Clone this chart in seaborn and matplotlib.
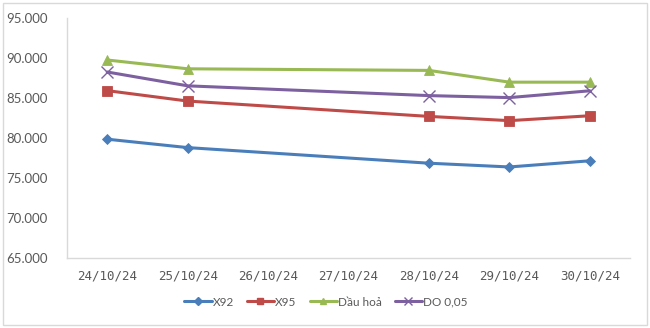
import matplotlib
matplotlib.use("Agg")
import matplotlib.pyplot as plt
from matplotlib.patches import Rectangle
from matplotlib.lines import Line2D
import matplotlib.ticker as mticker
import seaborn as sns
import pandas as pd
import numpy as np

dates = ["2024-10-24", "2024-10-25", "2024-10-28", "2024-10-29", "2024-10-30"]
tick_dates = ["2024-10-24", "2024-10-25", "2024-10-26", "2024-10-27",
              "2024-10-28", "2024-10-29", "2024-10-30"]
x92 = [79850, 78800, 76850, 76380, 77150]
x95 = [85920, 84620, 82700, 82170, 82780]
dau_hoa = [89750, 88650, 88450, 86980, 86980]
do005 = [88250, 86520, 85300, 85050, 85900]

series_names = ["X92", "X95", "Dầu hoả", "DO 0,05"]
series_values = [x92, x95, dau_hoa, do005]
colors = ["#4A7EBB", "#BE4B48", "#98B954", "#7D60A0"]
markers = ["D", "s", "^", "x"]
msizes = [5.5, 6.5, 7, 8]

sns.set_theme(style="white")
plt.rcParams['font.family'] = ['Lato', 'DejaVu Sans']

fig = plt.figure(figsize=(6.5, 3.28), dpi=100)
ax = fig.add_axes([67/650, 1 - 258/328, (630 - 67)/650, (258 - 18)/328])

x = pd.to_datetime(dates)
for name, vals, c, m, ms in zip(series_names, series_values, colors, markers, msizes):
    sns.lineplot(x=x, y=vals, color=c, marker=m, linewidth=2.2, markersize=ms,
                 markeredgewidth=1.0 if m == "x" else 0.6, markeredgecolor=c, ax=ax)

td = pd.to_datetime(tick_dates)
ax.set_xlim(td[0] - pd.Timedelta(hours=12), td[-1] + pd.Timedelta(hours=12))
ax.set_xticks(td)
ax.set_xticklabels([d.strftime("%d/%m/%y") for d in td], fontsize=9,
                   color="#595959", fontfamily=["DejaVu Sans Mono", "DejaVu Sans"])
ax.set_ylim(65000, 95000)
ax.set_yticks(np.arange(65000, 95001, 5000))
ax.yaxis.set_major_formatter(mticker.FuncFormatter(lambda v, p: f"{v:,.0f}".replace(",", ".")))
ax.tick_params(axis="y", labelsize=9.5, labelcolor="#595959", length=0, pad=14)
ax.tick_params(axis="x", length=0, pad=8)
ax.set_xlabel("")
ax.set_ylabel("")

for s in ["top", "right"]:
    ax.spines[s].set_visible(False)
for s in ["left", "bottom"]:
    ax.spines[s].set_color("#D9D9D9")
    ax.spines[s].set_linewidth(1)

handles = [Line2D([0], [0], color=c, marker=m, lw=2.2, markersize=4.5 if m != "x" else 6,
                  markeredgecolor=c, markeredgewidth=1.0) for c, m in zip(colors, markers)]
fig.legend(handles, series_names, loc="center", bbox_to_anchor=(326/650, 1 - 302/328),
           ncol=4, frameon=False, fontsize=8.5, handlelength=2.3, handletextpad=0.1,
           columnspacing=1.1, labelcolor="#595959")

fig.patches.append(Rectangle((3/650, 3/328), 644/650, 322/328, transform=fig.transFigure,
                             fill=False, edgecolor="#D9D9D9", linewidth=1))

fig.savefig("out.png", dpi=100)
